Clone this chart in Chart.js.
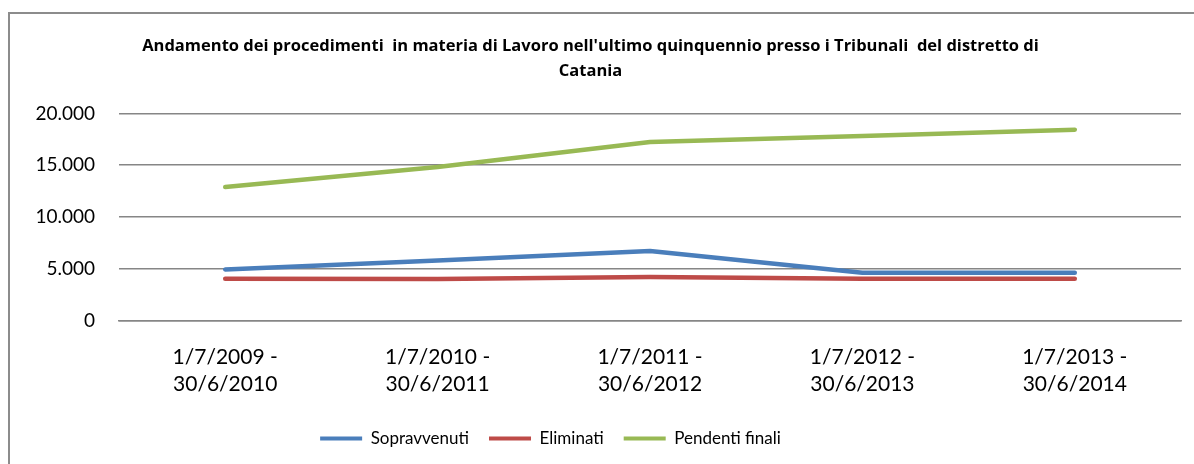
<!DOCTYPE html>
<html>
<head>
<meta charset="utf-8">
<script src="https://cdn.jsdelivr.net/npm/chart.js@4"></script>
<style>
  html, body { margin: 0; padding: 0; background: #fff; }
  #wrap { position: relative; width: 1194px; height: 464px; }
</style>
</head>
<body>
<div id="wrap"><canvas id="chart" width="1194" height="464"></canvas></div>
<script>
// periodi (etichette categoria su due righe)
const periods = [
  ["1/7/2009 -", "30/6/2010"],
  ["1/7/2010 -", "30/6/2011"],
  ["1/7/2011 -", "30/6/2012"],
  ["1/7/2012 -", "30/6/2013"],
  ["1/7/2013 -", "30/6/2014"]
];

// valori
const sopravvenuti = [4930, 5780, 6700, 4610, 4610];
const eliminati = [4030, 3990, 4190, 4030, 4030];
const pendentiFinali = [12890, 14820, 17240, 17820, 18440];

const titleLines = [
  "Andamento dei procedimenti  in materia di Lavoro nell'ultimo quinquennio presso i Tribunali  del distretto di",
  "Catania"
];

const yTicks = [0, 5000, 10000, 15000, 20000];

function fmt(v) {
  return String(v).replace(/\B(?=(\d{3})+(?!\d))/g, ".");
}

// cornice (solo bordo sinistro e superiore visibili)
const frame = {
  id: "frame",
  beforeDraw(chart) {
    const ctx = chart.ctx;
    ctx.save();
    ctx.fillStyle = "#fff";
    ctx.fillRect(0, 0, chart.width, chart.height);
    ctx.strokeStyle = "#8c8c8c";
    ctx.lineWidth = 2;
    ctx.beginPath();
    ctx.moveTo(9, chart.height);
    ctx.lineTo(9, 13);
    ctx.lineTo(chart.width, 13);
    ctx.stroke();
    ctx.restore();
  }
};

// la legenda dell'originale e' spostata un po' a sinistra
const legendShift = {
  id: "legendShift",
  afterLayout(chart) {
    chart.legend.left -= 40;
    chart.legend.right -= 40;
  }
};

Chart.defaults.font.family = "Lato, 'Open Sans', sans-serif";
Chart.defaults.color = "#000";

const ctx = document.getElementById("chart").getContext("2d");
const chart = new Chart(ctx, {
  type: "line",
  data: {
    labels: periods,
    datasets: [
      { label: "Sopravvenuti", data: sopravvenuti, borderColor: "#4a7ebb", backgroundColor: "#4a7ebb" },
      { label: "Eliminati", data: eliminati, borderColor: "#be4b48", backgroundColor: "#be4b48" },
      { label: "Pendenti finali", data: pendentiFinali, borderColor: "#98b954", backgroundColor: "#98b954" }
    ]
  },
  options: {
    responsive: false,
    animation: false,
    elements: {
      line: { borderWidth: 4.5, borderCapStyle: "round", borderJoinStyle: "round", tension: 0 },
      point: { radius: 0, hoverRadius: 0 }
    },
    layout: { padding: { left: 0, right: 13, top: 0, bottom: 7 } },
    plugins: {
      title: {
        display: true,
        text: titleLines,
        font: { family: "'Open Sans', sans-serif", size: 16.5, weight: "bold", lineHeight: 1.5 },
        color: "#000",
        padding: { top: 34, bottom: 30 }
      },
      legend: {
        position: "bottom",
        labels: {
          boxWidth: 42,
          boxHeight: 4,
          padding: 20,
          font: { size: 17 },
          generateLabels(chart) {
            return chart.data.datasets.map((ds, i) => ({
              text: ds.label,
              fillStyle: ds.borderColor,
              strokeStyle: ds.borderColor,
              lineWidth: 0,
              datasetIndex: i
            }));
          }
        }
      },
      tooltip: { enabled: false }
    },
    scales: {
      x: {
        offset: true,
        afterFit(scale) { scale.height -= 11; },
        grid: { display: false, drawTicks: false, offset: true },
        border: { display: true, color: "#868686", width: 1.5 },
        ticks: { font: { size: 21, lineHeight: 1.3 }, padding: 23, maxRotation: 0, autoSkip: false }
      },
      y: {
        min: 0,
        max: 20000,
        afterFit(scale) { scale.width = 119; },
        afterBuildTicks(scale) { scale.ticks = yTicks.map(v => ({ value: v })); },
        grid: { color: "#868686", lineWidth: 1.5, drawTicks: false },
        border: { display: false },
        ticks: { font: { size: 19 }, padding: 24, callback: v => fmt(v) }
      }
    }
  },
  plugins: [frame, legendShift]
});
</script>
</body>
</html>
